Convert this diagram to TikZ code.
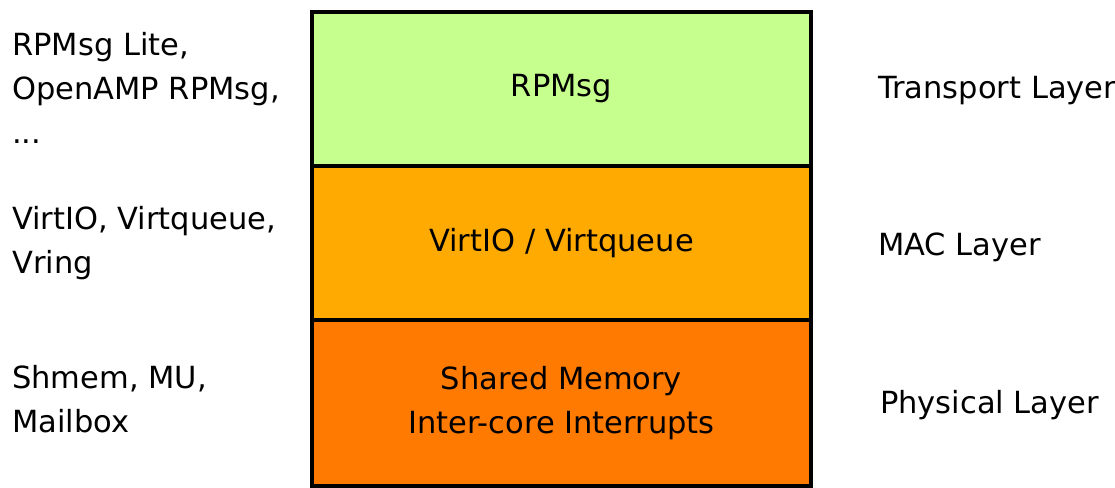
\documentclass[tikz,border=0pt]{standalone}
\usepackage{fontspec}
\setmainfont{DejaVu Sans}
\usetikzlibrary{backgrounds}
\definecolor{transport}{HTML}{C6FF8E}
\definecolor{mac}{HTML}{FFAA00}
\definecolor{physical}{HTML}{FF7A00}
\tikzset{font=\fontsize{30.5pt}{44pt}\selectfont}
\tikzstyle{none}=[inner sep=0pt]
\tikzstyle{side}=[inner sep=0pt,align=left,anchor=base west]
\tikzstyle{layer}=[rectangle,draw=black,line width=4pt,minimum width=499pt,align=center]

\begin{document}
\begin{tikzpicture}[x=1pt,y=-1pt]
	\useasboundingbox (0,0) rectangle (1115,487);
	\node [style=layer,fill=transport,minimum height=154pt] (0) at (561.5, 89) {RPMsg};
	\node [style=layer,fill=mac,minimum height=154pt] (1) at (561.5, 243) {VirtIO / Virtqueue};
	\node [style=layer,fill=physical,minimum height=166pt] (2) at (561.5, 403) {Shared Memory\\Inter-core Interrupts};
	\node [style=side] (3) at (12, 143) {RPMsg Lite,\\OpenAMP RPMsg,\\...};
	\node [style=side] (4) at (12, 273) {VirtIO, Virtqueue,\\Vring};
	\node [style=side] (5) at (12, 432) {Shmem, MU,\\Mailbox};
	\node [style=side] (6) at (878, 98) {Transport Layer};
	\node [style=side] (7) at (878, 255) {MAC Layer};
	\node [style=side] (8) at (880, 413) {Physical Layer};
\end{tikzpicture}
\end{document}
